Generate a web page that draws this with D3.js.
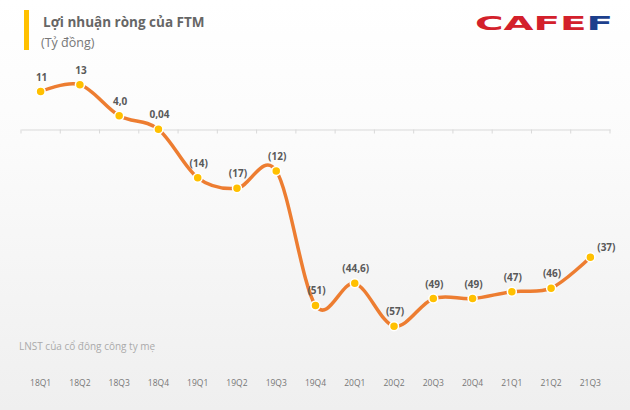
<!DOCTYPE html>
<html>
<head>
<meta charset="utf-8">
<script src="https://cdn.jsdelivr.net/npm/d3@7/dist/d3.min.js"></script>
<style>
html,body{margin:0;padding:0;}
svg{display:block;}
</style>
</head>
<body>
<svg id="chart" width="630" height="410"></svg>
<script>
const categories = ["18Q1","18Q2","18Q3","18Q4","19Q1","19Q2","19Q3","19Q4","20Q1","20Q2","20Q3","20Q4","21Q1","21Q2","21Q3"];
const values = [11, 13, 4.0, 0.04, -14, -17, -12, -51, -44.6, -57, -49, -49, -47, -46, -37];
const valueLabels = ["11","13","4,0","0,04","(14)","(17)","(12)","(51)","(44,6)","(57)","(49)","(49)","(47)","(46)","(37)"];
const title = "Lợi nhuận ròng của FTM";
const unit = "(Tỷ đồng)";
const footnote = "LNST của cổ đông công ty mẹ";

const svg = d3.select("#chart");
const W = 630, H = 410;

const defs = svg.append("defs");
const grad = defs.append("linearGradient").attr("id","bg").attr("x1",0).attr("y1",0).attr("x2",0).attr("y2",1);
grad.append("stop").attr("offset","0%").attr("stop-color","#ffffff");
grad.append("stop").attr("offset","35%").attr("stop-color","#fbfbfb");
grad.append("stop").attr("offset","100%").attr("stop-color","#efefef");
svg.append("rect").attr("width",W).attr("height",H).attr("fill","url(#bg)");

// title block
svg.append("rect").attr("x",24).attr("y",10).attr("width",5).attr("height",40).attr("fill","#FFC000");
svg.append("text").attr("x",43).attr("y",27).attr("font-family","Open Sans, sans-serif").attr("font-size",13.5).attr("font-weight","bold").attr("fill","#666").text(title);
svg.append("text").attr("x",41).attr("y",47).attr("font-family","Open Sans, sans-serif").attr("font-size",12.5).attr("fill","#777").text(unit);

// logo
const logo = svg.append("text").attr("x",475).attr("y",30).attr("font-family","DejaVu Sans, sans-serif").attr("font-size",19).attr("font-weight","900").attr("textLength",138).attr("lengthAdjust","spacingAndGlyphs");
logo.append("tspan").attr("fill","#d3202b").text("CAFE");
logo.append("tspan").attr("fill","#1c3f8c").text("F");

const x = d3.scaleBand().domain(categories).range([21, 610]);
const y = d3.scaleLinear().domain([-60, 15]).range([336.5, 77.75]);

// zero axis
const axis = d3.axisBottom(x).tickSize(0).tickFormat("");
const ax = svg.append("g").attr("transform",`translate(0,${y(0)})`).call(axis);
ax.select(".domain").attr("stroke","#d9d9d9").attr("stroke-width",1);
const bounds = categories.map(c => x(c)).concat([x(categories[categories.length-1]) + x.bandwidth()]);
ax.selectAll("line.bt").data(bounds).enter().append("line").attr("class","bt")
  .attr("x1",d=>d).attr("x2",d=>d).attr("y1",0).attr("y2",4).attr("stroke","#d9d9d9");

const cx = c => x(c) + x.bandwidth()/2;
const pts = categories.map((c,i)=>({c, v: values[i], l: valueLabels[i]}));

const line = d3.line().x(d=>cx(d.c)).y(d=>y(d.v)).curve(d3.curveCardinal.tension(0));
svg.append("path").datum(pts).attr("d",line).attr("fill","none").attr("stroke","#ED7D31").attr("stroke-width",3.5).attr("stroke-linecap","round");

svg.selectAll("circle.pt").data(pts).enter().append("circle").attr("class","pt")
  .attr("cx",d=>cx(d.c)).attr("cy",d=>y(d.v)).attr("r",4.5)
  .attr("fill","#FFC000").attr("stroke","#ffffff").attr("stroke-width",1.5);

svg.selectAll("text.lbl").data(pts).enter().append("text").attr("class","lbl")
  .attr("x",(d,i)=> i===pts.length-1 ? cx(d.c)+16 : cx(d.c)+1)
  .attr("y",(d,i)=> i===pts.length-1 ? y(d.v)-6 : y(d.v)-11)
  .attr("text-anchor","middle")
  .attr("font-family","Open Sans, sans-serif").attr("font-size",10).attr("font-weight","bold").attr("fill","#595959")
  .text(d=>d.l);

// footnote
svg.append("text").attr("x",19).attr("y",350).attr("font-family","Open Sans, sans-serif").attr("font-size",10).attr("fill","#aaa").text(footnote);

// category labels
svg.selectAll("text.cat").data(categories).enter().append("text").attr("class","cat")
  .attr("x",d=>cx(d)).attr("y",386).attr("text-anchor","middle")
  .attr("font-family","Open Sans, sans-serif").attr("font-size",8.5).attr("fill","#777").text(d=>d);
</script>
</body>
</html>
